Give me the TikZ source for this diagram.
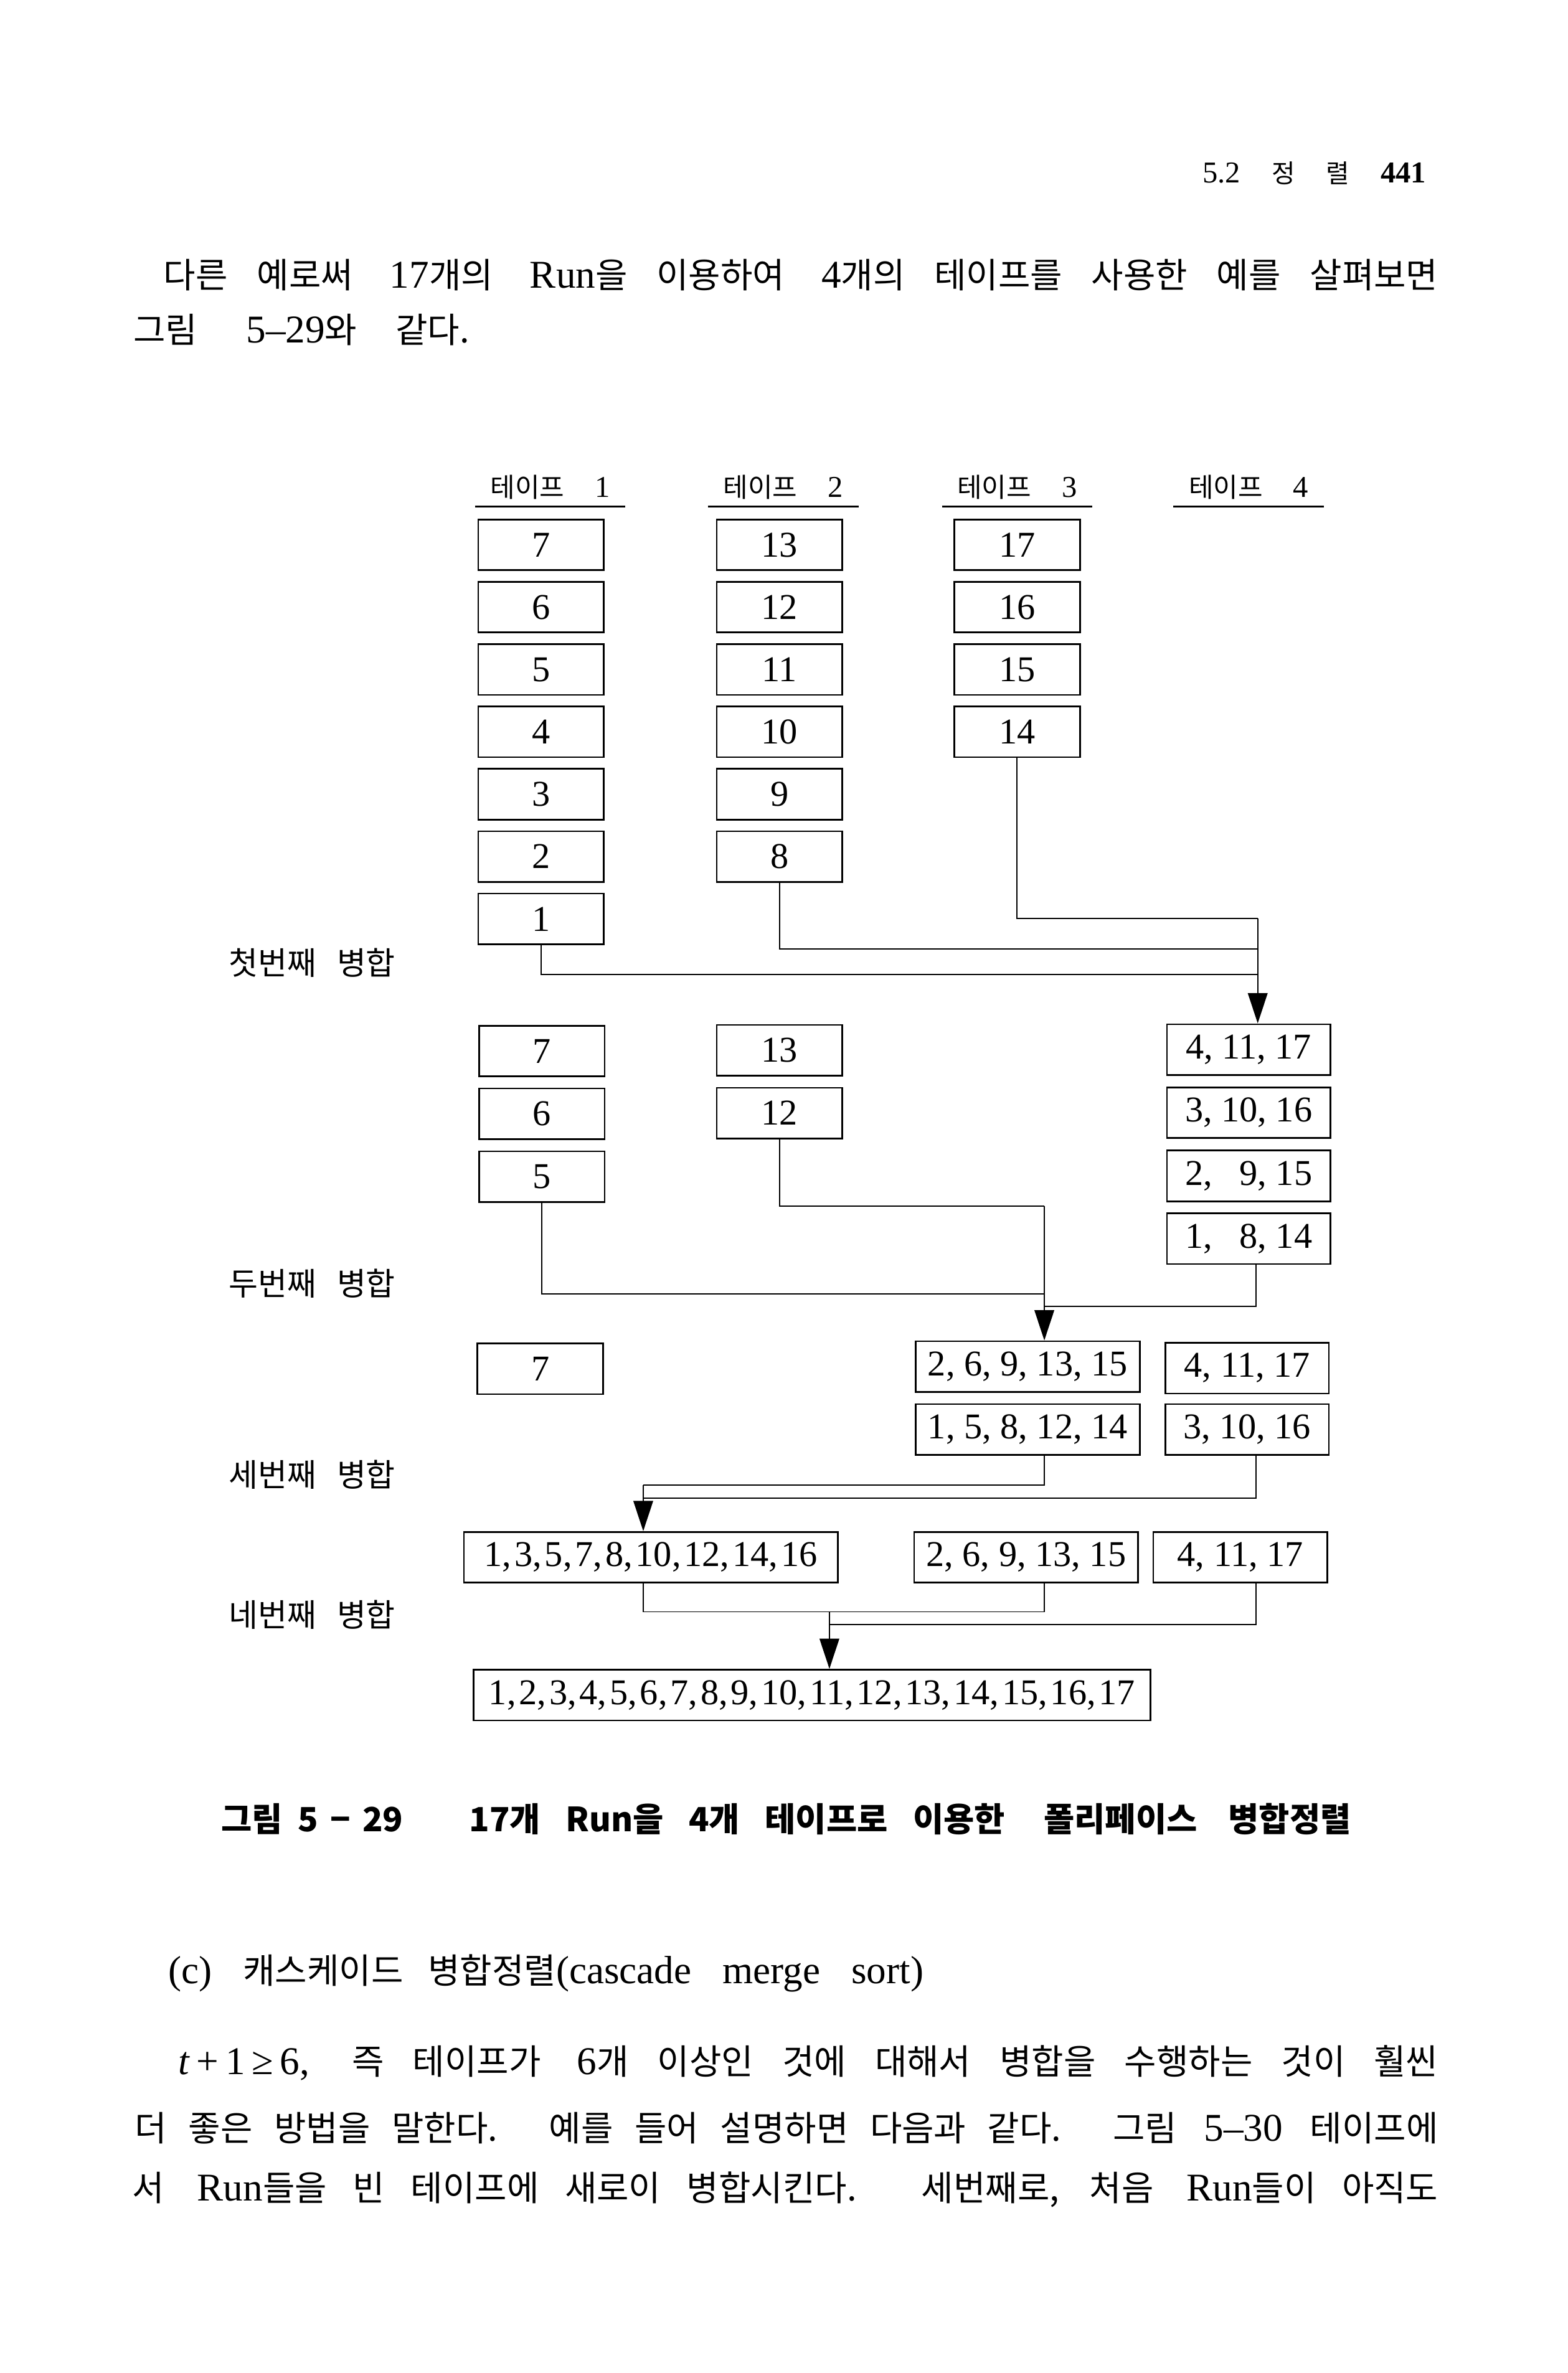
\documentclass[tikz,border=0pt]{standalone}
\usepackage{fontspec}
\setmainfont{Liberation Serif}
\newfontfamily\kr[Scale=0.885]{Noto Sans CJK KR}
\usetikzlibrary{arrows.meta}
\newcommand{\K}[1]{{\kr #1}}
\newcommand{\rs}{,\kern2pt}

\begin{document}
\begin{tikzpicture}[x=1pt,y=1pt,yscale=-1,xscale=1,
	run/.style={draw, line width=1.1pt, minimum width=83pt, minimum height=33.5pt, inner sep=0pt, font=\fontsize{24}{24}\selectfont},
	link/.style={line width=0.8pt},
	merge/.style={link, -{Triangle[length=20pt,width=13pt]}},
	tapehead/.style={minimum width=99pt, minimum height=25pt, inner sep=0pt, font=\fontsize{20}{20}\selectfont},
	mergelabel/.style={anchor=west, inner sep=0pt, font=\kr\fontsize{23.7}{23.7}\selectfont},
	bodyline/.style={anchor=west, inner sep=0pt, font=\fontsize{26}{26}\selectfont},
	caption/.style={anchor=west, inner sep=0pt, font=\kr\bfseries\fontsize{24.9}{24.9}\selectfont}]
				%set page: 1036 x 1568
				\fill [white] (0,0) rectangle (1036,1568);
				\useasboundingbox (0,0) rectangle (1036,1568);

				% Text Node
				\node [anchor=east, inner sep=0pt, font=\fontsize{20}{20}\selectfont] (runhead) at (942.4,114.5) {\hbox to 147.6pt{5.2\hfil{\kr\fontsize{19}{19}\selectfont 정}\hfil{\kr\fontsize{19}{19}\selectfont 렬}\hfil\textbf{441}}};
				% Text Node
				\node [bodyline] (line1) at (108,181.5) {\hbox to 842pt{\K{다른 예로써} 17\K{개의} Run\K{을 이용하여} 4\K{개의 테이프를 사용한 예를 살펴보면}}};
				% Text Node
				\node [bodyline] (line2) at (88,218) {\hbox to 222pt{\K{그림} 5–29\K{와 같다.}}};

				%Tape heads
				\node [tapehead] (head1) at (363.5,322) {\hbox to 79pt{\K{테이프}\hfil 1}};
				\node [tapehead] (head2) at (517.5,322) {\hbox to 79pt{\K{테이프}\hfil 2}};
				\node [tapehead] (head3) at (672,322) {\hbox to 79pt{\K{테이프}\hfil 3}};
				\node [tapehead] (head4) at (825,322) {\hbox to 79pt{\K{테이프}\hfil 4}};
				\draw [line width=1.1pt] (head1.south west) -- (head1.south east);
				\draw [line width=1.1pt] (head2.south west) -- (head2.south east);
				\draw [line width=1.1pt] (head3.south west) -- (head3.south east);
				\draw [line width=1.1pt] (head4.south west) -- (head4.south east);

				%Shape: Rectangle (tape 1, 17 runs spread)
				\node [run] (ta7) at (357.5,360) {7};
				\node [run] (ta6) at (357.5,401.2) {6};
				\node [run] (ta5) at (357.5,442.4) {5};
				\node [run] (ta4) at (357.5,483.6) {4};
				\node [run] (ta3) at (357.5,524.8) {3};
				\node [run] (ta2) at (357.5,566) {2};
				\node [run] (ta1) at (357.5,607.2) {1};
				%Shape: Rectangle (tape 2)
				\node [run] (tb13) at (515,360) {13};
				\node [run] (tb12) at (515,401.2) {12};
				\node [run] (tb11) at (515,442.4) {11};
				\node [run] (tb10) at (515,483.6) {10};
				\node [run] (tb9) at (515,524.8) {9};
				\node [run] (tb8) at (515,566) {8};
				%Shape: Rectangle (tape 3)
				\node [run] (tc17) at (672,360) {17};
				\node [run] (tc16) at (672,401.2) {16};
				\node [run] (tc15) at (672,442.4) {15};
				\node [run] (tc14) at (672,483.6) {14};

				% Text Node
				\node [mergelabel] (lab1) at (151,636) {\hbox to 110pt{첫번째\hfil 병합}};
				%Straight Lines (first merge)
				\coordinate (m1a) at (831,607);
				\coordinate (m1b) at (831,627);
				\coordinate (m1c) at (831,644);
				\draw [link] (tc14.south) |- (m1a);
				\draw [link] (tb8.south) |- (m1b);
				\draw [link] (ta1.south) |- (m1c);

				%Shape: Rectangle (after first merge)
				\node [run] (ua7) at (358,694.5) {7};
				\node [run] (ua6) at (358,736) {6};
				\node [run] (ua5) at (358,777.5) {5};
				\node [run] (ub13) at (515,694) {13};
				\node [run] (ub12) at (515,735.5) {12};
				\node [run, minimum width=108pt] (ud1) at (825,693.5) {4, 11, 17};
				\node [run, minimum width=108pt] (ud2) at (825,735.2) {3, 10, 16};
				\node [run, minimum width=108pt] (ud3) at (825,777) {2, \phantom{1}9, 15};
				\node [run, minimum width=108pt] (ud4) at (825,818.5) {1, \phantom{1}8, 14};
				\draw [merge] (m1a) -- (m1a |- ud1.north);

				% Text Node
				\node [mergelabel] (lab2) at (151,848) {\hbox to 110pt{두번째\hfil 병합}};
				%Straight Lines (second merge)
				\coordinate (m2a) at (690,797);
				\coordinate (m2b) at (690,855);
				\coordinate (m2c) at (690,863);
				\draw [link] (ub12.south) |- (m2a);
				\draw [link] (ua5.south) |- (m2b);
				\draw [link] ([xshift=5pt]ud4.south) |- (m2c);

				%Shape: Rectangle (after second merge)
				\node [run] (va7) at (357,904.5) {7};
				\node [run, minimum width=148pt] (vc1) at (679,903) {2, 6, 9, 13, 15};
				\node [run, minimum width=108pt] (vd1) at (824,904) {4, 11, 17};
				\node [run, minimum width=148pt] (vc2) at (679,944.5) {1, 5, 8, 12, 14};
				\node [run, minimum width=108pt] (vd2) at (824,944.5) {3, 10, 16};
				\draw [merge] (m2a) -- (m2a |- vc1.north);

				% Text Node
				\node [mergelabel] (lab3) at (151,974.4) {\hbox to 110pt{세번째\hfil 병합}};
				%Straight Lines (third merge)
				\coordinate (m3a) at (425,981.4);
				\coordinate (m3b) at (425,990);
				\draw [link] ([xshift=11pt]vc2.south) |- (m3a);
				\draw [link] ([xshift=6pt]vd2.south) |- (m3b);

				%Shape: Rectangle (after third merge)
				\node [run, minimum width=247pt] (wa) at (430,1029) {1\rs 3\rs 5\rs 7\rs 8\rs 10\rs 12\rs 14\rs 16};
				\node [run, minimum width=148pt] (wc) at (678,1029) {2, 6, 9, 13, 15};
				\node [run, minimum width=115pt] (wd) at (819.5,1029) {4, 11, 17};
				\draw [merge] (m3a) -- (m3a |- wa.north);

				% Text Node
				\node [mergelabel] (lab4) at (151,1067) {\hbox to 110pt{네번째\hfil 병합}};
				%Straight Lines (fourth merge)
				\coordinate (m4a) at (690,1065);
				\coordinate (m4b) at (548,1073.4);
				\coordinate (m4c) at (548,1065);
				\draw [link] ([xshift=-5pt]wa.south) |- (m4a) -- ([xshift=12pt]wc.south);
				\draw [link] ([xshift=10.5pt]wd.south) |- (m4b);

				%Shape: Rectangle (result)
				\node [run, minimum width=447pt] (fin) at (536.5,1120) {1\rs 2\rs 3\rs 4\rs 5\rs 6\rs 7\rs 8\rs 9\rs 10\rs 11\rs 12\rs 13\rs 14\rs 15\rs 16\rs 17};
				\draw [merge] (m4c) -- (m4c |- fin.north);

				% Text Node
				\node [caption] (capnum) at (146,1202) {\hbox to 125pt{그림\hskip 10pt 5\hskip 8pt −\hskip 8pt 29\hfil}};
				\node [caption] (captitle) at (309.8,1202) {\hbox to 354pt{17개 Run을 4개 테이프로 이용한}};
				\node [caption] (capname) at (689.5,1202) {\hbox to 203pt{폴리페이스 병합정렬}};

				% Text Node
				\node [bodyline] (csub) at (111,1304) {\hbox to 499pt{(c) \K{캐스케이드 병합정렬}(cascade merge sort)}};
				% Text Node
				\node [bodyline] (para1) at (117.7,1363) {\hbox to 832.3pt{\textit{t}\,+\,1\,≥\,6, \K{즉 테이프가} 6\K{개 이상인 것에 대해서 병합을 수행하는 것이 훨씬}}};
				% Text Node
				\node [bodyline] (para2) at (89,1406) {\hbox to 861pt{\K{더 좋은 방법을 말한다. 예를 들어 설명하면 다음과 같다. 그림} 5–30 \K{테이프에}}};
				% Text Node
				\node [bodyline] (para3) at (87.4,1447) {\hbox to 862.6pt{\K{서} Run\K{들을 빈 테이프에 새로이 병합시킨다. 세번째로, 처음} Run\K{들이 아직도}}};

\end{tikzpicture}
\end{document}
